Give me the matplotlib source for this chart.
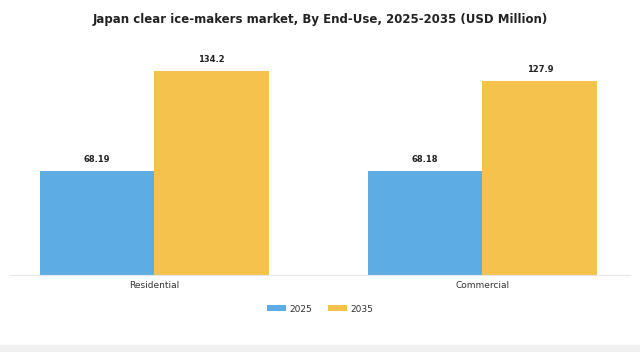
import numpy as np
import matplotlib.pyplot as plt
from matplotlib.patches import Rectangle

categories = ["Residential", "Commercial"]
years = ["2025", "2035"]
values_2025 = [68.19, 68.18]
values_2035 = [134.2, 127.9]
labels_2025 = ["68.19", "68.18"]
labels_2035 = ["134.2", "127.9"]

colors = ["#5DADE2", "#F5C24C"]

fig = plt.figure(figsize=(6.4, 3.52), dpi=100)
# axes placed in pixel terms: left 10, right 630, bottom at y=275 (from top), top at y=50
W, H = 640, 352
ax = fig.add_axes([10 / W, (H - 275) / H, 620 / W, 225 / H])

x = np.arange(len(categories))
w = 0.35
b1 = ax.bar(x - w / 2, values_2025, w, color=colors[0], label=years[0])
b2 = ax.bar(x + w / 2, values_2035, w, color=colors[1], label=years[1])

for bars, labs in ((b1, labels_2025), (b2, labels_2035)):
    for r, t in zip(bars, labs):
        ax.annotate(t, (r.get_x() + r.get_width() / 2, r.get_height()),
                    xytext=(0, 5), textcoords="offset points",
                    ha="center", va="bottom", fontsize=6, fontweight="bold",
                    color="#222222")

ax.set_xlim(-0.44, 1.45)
ax.set_ylim(0, 148)
ax.set_xticks(x)
ax.set_xticklabels(categories, fontsize=6.5, color="#333333")
ax.tick_params(axis="x", length=0, pad=4)
ax.set_yticks([])
for s in ("top", "right", "left"):
    ax.spines[s].set_visible(False)
ax.spines["bottom"].set_color("#e6e6e6")
ax.spines["bottom"].set_linewidth(0.8)

fig.text(0.5, 1 - 20 / H, "Japan clear ice-makers market, By End-Use, 2025-2035 (USD Million)",
         ha="center", va="center", fontsize=8.5, fontweight="bold", color="#222222")

fig.legend(handles=[b1, b2], labels=years, loc="center", bbox_to_anchor=(0.5, 1 - 309 / H),
           ncol=2, frameon=False, fontsize=6.5, handlelength=2.1, handleheight=0.6,
           handletextpad=0.4, columnspacing=1.7, labelcolor="#333333")

fig.patches.append(Rectangle((0, 0), 1, 7 / H, transform=fig.transFigure,
                             color="#f0f0f0", zorder=0))

fig.savefig("out.png", dpi=100)
